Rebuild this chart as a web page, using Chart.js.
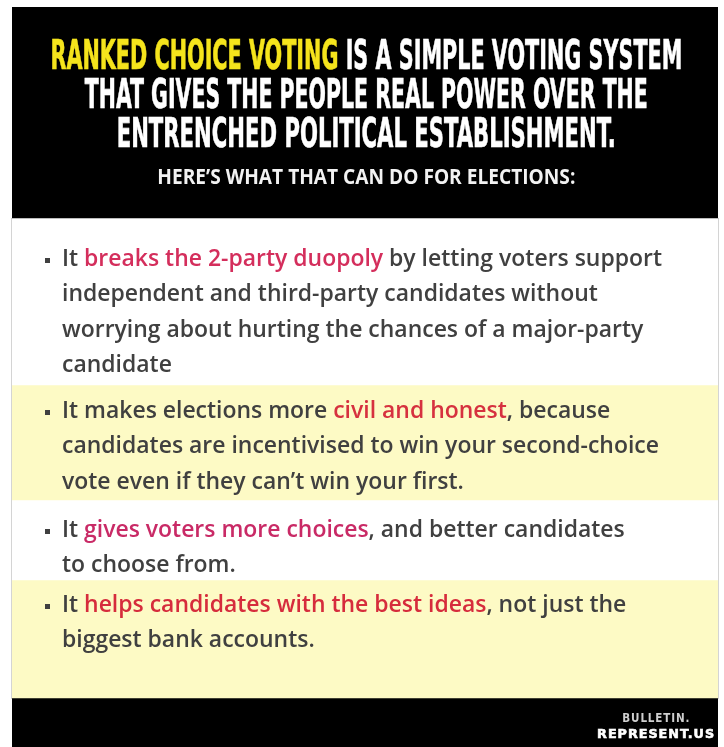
<!DOCTYPE html>
<html>
<head>
<meta charset="utf-8">
<script src="https://cdn.jsdelivr.net/npm/chart.js@4.4.1/dist/chart.umd.min.js"></script>
<style>
  html, body { margin: 0; padding: 0; background: #fff; overflow: hidden; }
  #page { position: relative; width: 724px; height: 747px; background: #fff; }
  #panel { position: absolute; left: 12px; top: 7px; width: 706px; height: 740px; }
  #edge { position: absolute; left: 11px; top: 218px; width: 706px; height: 480px;
          border-left: 1px solid #d4d4d4; border-right: 1px solid #d4d4d4; border-top: 1px solid #bdbdbd; }
  .line { position: absolute; white-space: nowrap; left: 0; top: 0; }
  .title { font-family: "Liberation Sans Narrow", "DejaVu Sans Condensed", sans-serif; font-weight: 700;
           font-size: 40px; color: #fff; -webkit-text-stroke: 0.6px #fff; }
  .title .hl { color: #f5e41c; -webkit-text-stroke: 0.6px #f5e41c; }
  .sub { font-family: "Open Sans", sans-serif; font-weight: 700; font-size: 21px; color: #f2f2f2; }
  .body { font-family: "Open Sans", "Lato", sans-serif; font-weight: 600; font-size: 22.5px; color: #404040; }
  .body .hl { color: #d22d56; }
  .bullet { position: absolute; width: 5px; height: 5px; background: #404040; }
  .foot1 { font-family: "DejaVu Sans", sans-serif; font-weight: 700; font-size: 12px; color: #cfcfcf; letter-spacing: 1px; }
  .foot2 { font-family: "DejaVu Sans", sans-serif; font-weight: 700; font-size: 13px; color: #fff; letter-spacing: 1px;
           -webkit-text-stroke: 0.6px #fff; }
  .mark { display: inline-block; width: 0; height: 0; vertical-align: baseline; }
</style>
</head>
<body>
<div id="page">
  <div id="panel"><canvas id="bands"></canvas></div>
  <div id="edge"></div>
  <div id="text"></div>
</div>
<script>
// bands of the card, top to bottom, heights
const bands = ["Header", "Point 1", "Point 2", "Point 3", "Point 4", "Footer"];
const bandHeights = [211, 167, 115, 80, 118, 49];

const headline = [
  "[RANKED CHOICE VOTING] IS A SIMPLE VOTING SYSTEM",
  "THAT GIVES THE PEOPLE REAL POWER OVER THE",
  "ENTRENCHED POLITICAL ESTABLISHMENT."
];
const subhead = "HERE\u2019S WHAT THAT CAN DO FOR ELECTIONS:";

// [..] marks the highlighted words
const points = [
  ["It [breaks the 2-party duopoly] by letting voters support",
   "independent and third-party candidates without",
   "worrying about hurting the chances of a major-party",
   "candidate"],
  ["It makes elections more [civil and honest], because",
   "candidates are incentivised to win your second-choice",
   "vote even if they can\u2019t win your first."],
  ["It [gives voters more choices], and better candidates",
   "to choose from."],
  ["It [helps candidates with the best ideas], not just the",
   "biggest bank accounts."]
];
const hlColors = ["#d42e5c", "#d6313f", "#c92a66", "#d62c3c"];
const footer = ["BULLETIN.", "REPRESENT.US"];

const bandColors = ["#000000", "#ffffff", "#fdfac5", "#ffffff", "#fdfac5", "#000000"];

const ctx = document.getElementById("bands");

new Chart(ctx, {
  type: "bar",
  data: {
    labels: ["card"],
    datasets: bands.map((name, i) => ({
      label: name,
      data: [bandHeights[i]],
      backgroundColor: bandColors[i],
      borderWidth: 0,
      barPercentage: 1,
      categoryPercentage: 1
    }))
  },
  options: {
    responsive: true,
    maintainAspectRatio: false,
    animation: false,
    layout: { padding: 0 },
    plugins: {
      legend: { display: false },
      tooltip: { enabled: false }
    },
    scales: {
      x: { stacked: true, display: false },
      y: {
        stacked: true,
        display: false,
        reverse: true,
        min: 0,
        max: bandHeights.reduce((a, b) => a + b, 0)
      }
    }
  }
});

// text layer
const layer = document.getElementById("text");

function markup(str, color) {
  return str.replace(/\[([^\]]+)\]/g, (m, t) =>
    '<span class="hl"' + (color ? ' style="color:' + color + '"' : "") + ">" + t + "</span>");
}

// put a line so its baseline sits at y; x is left edge or centre
// w = width to squeeze to, or s = a fixed horizontal scale
function place(html, cls, x, y, align, w, s) {
  const el = document.createElement("div");
  el.className = "line " + cls;
  el.innerHTML = html + '<span class="mark"></span>';
  layer.appendChild(el);
  const r = el.getBoundingClientRect();
  const base = el.querySelector(".mark").getBoundingClientRect().top - r.top;
  let sx = s || 1;
  if (w) sx = w / r.width;
  const left = align === "center" ? x - r.width / 2 : align === "right" ? x - r.width : x;
  el.style.left = left + "px";
  el.style.top = (y - base) + "px";
  if (sx !== 1) {
    el.style.transformOrigin = align === "center" ? "50% 0" : align === "right" ? "100% 0" : "0 0";
    el.style.transform = "scaleX(" + sx + ")";
  }
  return { el: el, sx: sx };
}

const titleBase = [69, 108, 147];
const titleW = [632, 563, 499];
headline.forEach((t, i) => place(markup(t), "title", 366, titleBase[i], "center", titleW[i]));
place(subhead, "sub", 366, 184, "center", 418);

const firstBase = [266, 418, 537, 612];
const pitch = 35.3;
let bodyScale = null;
points.forEach((lines, p) => {
  lines.forEach((t, j) => {
    const r = place(markup(t, hlColors[p]), "body", 62, firstBase[p] + j * pitch, "left",
      bodyScale ? null : 600, bodyScale);
    if (!bodyScale) bodyScale = r.sx;
  });
  const b = document.createElement("div");
  b.className = "bullet";
  b.style.left = "45px";
  b.style.top = (firstBase[p] - 8) + "px";
  layer.appendChild(b);
});

place(footer[0], "foot1", 656, 722, "center", 68);
place(footer[1], "foot2", 656, 738, "center", 118);
</script>
</body>
</html>
